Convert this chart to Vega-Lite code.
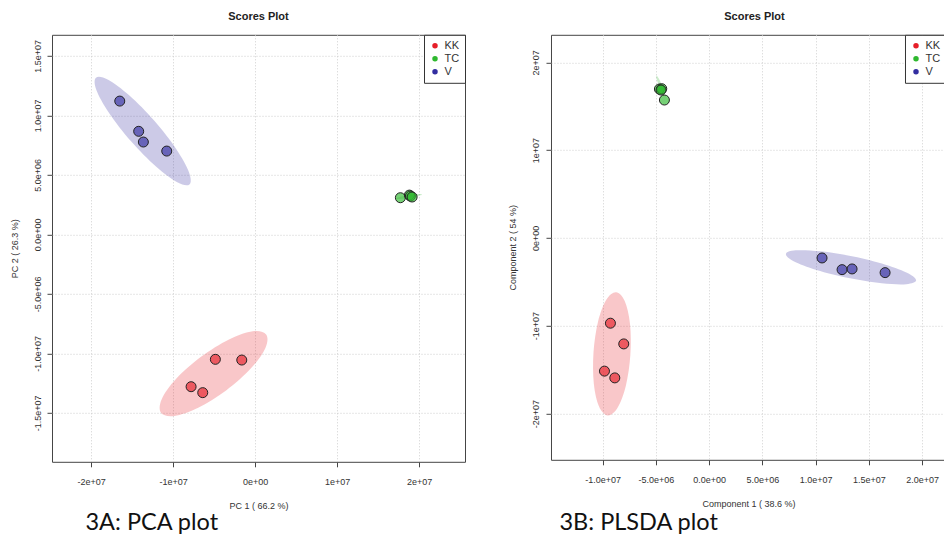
{
  "$schema": "https://vega.github.io/schema/vega-lite/v6.json",
  "background": "white",
  "padding": {"left": 9, "right": 0, "top": 9.8, "bottom": 0},
  "spacing": 42,
  "resolve": {"scale": {"color": "independent"}, "legend": {"color": "independent"}},
  "datasets": {
    "pcaScores": [
      {"group": "KK", "x": -4.84e6, "y": -10.5e6},
      {"group": "KK", "x": -1.62e6, "y": -10.56e6},
      {"group": "KK", "x": -7.8e6, "y": -12.8e6},
      {"group": "KK", "x": -6.38e6, "y": -13.3e6},
      {"group": "TC", "x": 17.72e6, "y": 3.08e6},
      {"group": "TC", "x": 18.82e6, "y": 3.3e6},
      {"group": "TC", "x": 18.94e6, "y": 3.22e6},
      {"group": "TC", "x": 19.15e6, "y": 3.14e6},
      {"group": "V", "x": -16.5e6, "y": 11.2e6},
      {"group": "V", "x": -14.19e6, "y": 8.66e6},
      {"group": "V", "x": -13.62e6, "y": 7.76e6},
      {"group": "V", "x": -10.77e6, "y": 7.0e6}
    ],
    "pcaEllipse": [
      {"group": "V", "i": 0, "x": -8.0e6, "y": 4.2e6},
      {"group": "V", "i": 1, "x": -9.48e6, "y": 4.37e6},
      {"group": "V", "i": 2, "x": -12.08e6, "y": 5.7e6},
      {"group": "V", "i": 3, "x": -15.12e6, "y": 7.82e6},
      {"group": "V", "i": 4, "x": -17.78e6, "y": 10.18e6},
      {"group": "V", "i": 5, "x": -19.35e6, "y": 12.13e6},
      {"group": "V", "i": 6, "x": -19.4e6, "y": 13.16e6},
      {"group": "V", "i": 7, "x": -17.92e6, "y": 12.99e6},
      {"group": "V", "i": 8, "x": -15.32e6, "y": 11.66e6},
      {"group": "V", "i": 9, "x": -12.28e6, "y": 9.54e6},
      {"group": "V", "i": 10, "x": -9.62e6, "y": 7.18e6},
      {"group": "V", "i": 11, "x": -8.06e6, "y": 5.23e6},
      {"group": "KK", "i": 0, "x": 1.35e6, "y": -8.41e6},
      {"group": "KK", "i": 1, "x": 1.25e6, "y": -9.56e6},
      {"group": "KK", "i": 2, "x": -0.53e6, "y": -11.28e6},
      {"group": "KK", "i": 3, "x": -3.53e6, "y": -13.12e6},
      {"group": "KK", "i": 4, "x": -6.94e6, "y": -14.57e6},
      {"group": "KK", "i": 5, "x": -9.84e6, "y": -15.26e6},
      {"group": "KK", "i": 6, "x": -11.47e6, "y": -14.99e6},
      {"group": "KK", "i": 7, "x": -11.37e6, "y": -13.84e6},
      {"group": "KK", "i": 8, "x": -9.59e6, "y": -12.12e6},
      {"group": "KK", "i": 9, "x": -6.59e6, "y": -10.29e6},
      {"group": "KK", "i": 10, "x": -3.18e6, "y": -8.83e6},
      {"group": "KK", "i": 11, "x": -0.28e6, "y": -8.14e6},
      {"group": "TC", "i": 0, "x": 20.35e6, "y": 3.36e6},
      {"group": "TC", "i": 1, "x": 20.15e6, "y": 3.28e6},
      {"group": "TC", "i": 2, "x": 19.59e6, "y": 3.17e6},
      {"group": "TC", "i": 3, "x": 18.81e6, "y": 3.07e6},
      {"group": "TC", "i": 4, "x": 18.02e6, "y": 3.0e6},
      {"group": "TC", "i": 5, "x": 17.44e6, "y": 2.98e6},
      {"group": "TC", "i": 6, "x": 17.21e6, "y": 3.02e6},
      {"group": "TC", "i": 7, "x": 17.41e6, "y": 3.1e6},
      {"group": "TC", "i": 8, "x": 17.97e6, "y": 3.21e6},
      {"group": "TC", "i": 9, "x": 18.75e6, "y": 3.31e6},
      {"group": "TC", "i": 10, "x": 19.54e6, "y": 3.38e6},
      {"group": "TC", "i": 11, "x": 20.12e6, "y": 3.4e6}
    ],
    "plsScores": [
      {"group": "KK", "x": -9.26e6, "y": -9.71e6},
      {"group": "KK", "x": -8.01e6, "y": -12.07e6},
      {"group": "KK", "x": -9.82e6, "y": -15.17e6},
      {"group": "KK", "x": -8.85e6, "y": -15.94e6},
      {"group": "TC", "x": -4.66e6, "y": 16.96e6},
      {"group": "TC", "x": -4.44e6, "y": 17.0e6},
      {"group": "TC", "x": -4.51e6, "y": 16.85e6},
      {"group": "TC", "x": -4.19e6, "y": 15.71e6},
      {"group": "V", "x": 10.61e6, "y": -2.28e6},
      {"group": "V", "x": 12.49e6, "y": -3.61e6},
      {"group": "V", "x": 13.43e6, "y": -3.53e6},
      {"group": "V", "x": 16.53e6, "y": -3.95e6}
    ],
    "plsEllipse": [
      {"group": "V", "i": 0, "x": 19.44e6, "y": -4.86e6},
      {"group": "V", "i": 1, "x": 18.52e6, "y": -5.27e6},
      {"group": "V", "i": 2, "x": 16.21e6, "y": -5.16e6},
      {"group": "V", "i": 3, "x": 13.12e6, "y": -4.57e6},
      {"group": "V", "i": 4, "x": 10.1e6, "y": -3.64e6},
      {"group": "V", "i": 5, "x": 7.94e6, "y": -2.64e6},
      {"group": "V", "i": 6, "x": 7.22e6, "y": -1.82e6},
      {"group": "V", "i": 7, "x": 8.14e6, "y": -1.41e6},
      {"group": "V", "i": 8, "x": 10.46e6, "y": -1.52e6},
      {"group": "V", "i": 9, "x": 13.54e6, "y": -2.11e6},
      {"group": "V", "i": 10, "x": 16.57e6, "y": -3.04e6},
      {"group": "V", "i": 11, "x": 18.73e6, "y": -4.04e6},
      {"group": "KK", "i": 0, "x": -9.51e6, "y": -20.22e6},
      {"group": "KK", "i": 1, "x": -10.33e6, "y": -19.21e6},
      {"group": "KK", "i": 2, "x": -10.82e6, "y": -16.59e6},
      {"group": "KK", "i": 3, "x": -10.85e6, "y": -13.06e6},
      {"group": "KK", "i": 4, "x": -10.43e6, "y": -9.57e6},
      {"group": "KK", "i": 5, "x": -9.65e6, "y": -7.05e6},
      {"group": "KK", "i": 6, "x": -8.73e6, "y": -6.18e6},
      {"group": "KK", "i": 7, "x": -7.92e6, "y": -7.19e6},
      {"group": "KK", "i": 8, "x": -7.42e6, "y": -9.81e6},
      {"group": "KK", "i": 9, "x": -7.39e6, "y": -13.34e6},
      {"group": "KK", "i": 10, "x": -7.81e6, "y": -16.83e6},
      {"group": "KK", "i": 11, "x": -8.59e6, "y": -19.35e6},
      {"group": "TC", "i": 0, "x": -4.15e6, "y": 16.14e6},
      {"group": "TC", "i": 1, "x": -4.27e6, "y": 16.26e6},
      {"group": "TC", "i": 2, "x": -4.46e6, "y": 16.66e6},
      {"group": "TC", "i": 3, "x": -4.67e6, "y": 17.24e6},
      {"group": "TC", "i": 4, "x": -4.85e6, "y": 17.83e6},
      {"group": "TC", "i": 5, "x": -4.94e6, "y": 18.27e6},
      {"group": "TC", "i": 6, "x": -4.93e6, "y": 18.46e6},
      {"group": "TC", "i": 7, "x": -4.81e6, "y": 18.34e6},
      {"group": "TC", "i": 8, "x": -4.62e6, "y": 17.94e6},
      {"group": "TC", "i": 9, "x": -4.41e6, "y": 17.36e6},
      {"group": "TC", "i": 10, "x": -4.23e6, "y": 16.77e6},
      {"group": "TC", "i": 11, "x": -4.14e6, "y": 16.33e6}
    ]
  },
  "hconcat": [
    {
      "title": {"text": "3A: PCA plot", "orient": "bottom", "anchor": "start", "dx": 76, "offset": 0.5, "font": "Lato", "fontSize": 23.5, "fontWeight": "normal", "color": "#111"},
      "resolve": {"scale": {"color": "independent"}, "legend": {"color": "independent"}},
      "vconcat": [
        {
          "title": {"text": "Scores Plot", "frame": "group", "anchor": "middle", "offset": 12.2},
          "width": 413,
          "height": 427,
          "encoding": {
            "x": {"field": "x", "type": "quantitative", "scale": {"domain": [-24.76e6, 25.6e6], "nice": false, "zero": false},
                  "axis": {"title": "PC 1 ( 66.2 %)", "values": [-2e7, -1e7, 0, 1e7, 2e7],
                           "labelExpr": "replace(replace(replace(format(datum.value, '.0e'), '\u2212', '-'), 'e+', 'e+0'), 'e-', 'e-0')"}},
            "y": {"field": "y", "type": "quantitative", "scale": {"domain": [-19.11e6, 16.77e6], "nice": false, "zero": false},
                  "axis": {"title": "PC 2 ( 26.3 %)", "values": [-1.5e7, -1e7, -5e6, 0, 5e6, 1e7, 1.5e7],
                           "labelExpr": "replace(replace(replace(format(datum.value, '.1e'), '\u2212', '-'), 'e+', 'e+0'), 'e-', 'e-0')"}},
            "color": {"field": "group", "type": "nominal",
                      "scale": {"domain": ["KK", "TC", "V"], "range": ["#e61e28", "#2eb82e", "#322da0"]},
                      "legend": {"title": null, "orient": "top-right", "offset": 0, "padding": 5.5, "strokeColor": "#333", "fillColor": "white",
                                 "symbolType": "circle", "symbolSize": 30, "symbolStrokeWidth": 0, "symbolOpacity": 1,
                                 "labelFontSize": 11, "labelFont": "Liberation Sans", "labelColor": "#333", "labelOffset": 4, "rowPadding": 1, "cornerRadius": 0}}
          },
          "layer": [
            {"data": {"name": "pcaEllipse"},
             "mark": {"type": "line", "interpolate": "cardinal-closed", "filled": true, "fillOpacity": 0.25, "strokeOpacity": 0},
             "encoding": {"order": {"field": "i", "type": "quantitative"}}},
            {"data": {"name": "pcaScores"},
             "mark": {"type": "point", "shape": "circle", "filled": true, "size": 100, "opacity": 1, "fillOpacity": 0.65, "stroke": "#222", "strokeWidth": 1}}
          ]
        }
      ]
    },
    {
      "title": {"text": "3B: PLSDA plot", "orient": "bottom", "anchor": "start", "dx": 51, "offset": 2.5, "font": "Lato", "fontSize": 23.5, "fontWeight": "normal", "color": "#111"},
      "resolve": {"scale": {"color": "independent"}, "legend": {"color": "independent"}},
      "vconcat": [
        {
          "title": {"text": "Scores Plot", "frame": "group", "anchor": "middle", "offset": 12.2, "dx": 6},
          "width": 395,
          "height": 425,
          "encoding": {
            "x": {"field": "x", "type": "quantitative", "scale": {"domain": [-14.84e6, 22.25e6], "nice": false, "zero": false},
                  "axis": {"title": "Component 1 ( 38.6 %)", "values": [-1e7, -5e6, 0, 5e6, 1e7, 1.5e7, 2e7],
                           "labelExpr": "replace(replace(replace(format(datum.value, '.1e'), '\u2212', '-'), 'e+', 'e+0'), 'e-', 'e-0')"}},
            "y": {"field": "y", "type": "quantitative", "scale": {"domain": [-25.27e6, 23.14e6], "nice": false, "zero": false},
                  "axis": {"title": "Component 2 ( 54 %)", "values": [-2e7, -1e7, 0, 1e7, 2e7],
                           "labelExpr": "replace(replace(replace(format(datum.value, '.0e'), '\u2212', '-'), 'e+', 'e+0'), 'e-', 'e-0')"}},
            "color": {"field": "group", "type": "nominal",
                      "scale": {"domain": ["KK", "TC", "V"], "range": ["#e61e28", "#2eb82e", "#322da0"]},
                      "legend": {"title": null, "orient": "top-right", "offset": 0, "padding": 5.5, "strokeColor": "#333", "fillColor": "white",
                                 "symbolType": "circle", "symbolSize": 30, "symbolStrokeWidth": 0, "symbolOpacity": 1,
                                 "labelFontSize": 11, "labelFont": "Liberation Sans", "labelColor": "#333", "labelOffset": 4, "rowPadding": 1, "cornerRadius": 0}}
          },
          "layer": [
            {"data": {"name": "plsEllipse"},
             "mark": {"type": "line", "interpolate": "cardinal-closed", "filled": true, "fillOpacity": 0.25, "strokeOpacity": 0},
             "encoding": {"order": {"field": "i", "type": "quantitative"}}},
            {"data": {"name": "plsScores"},
             "mark": {"type": "point", "shape": "circle", "filled": true, "size": 100, "opacity": 1, "fillOpacity": 0.65, "stroke": "#222", "strokeWidth": 1}}
          ]
        }
      ]
    }
  ],
  "config": {
    "font": "Liberation Sans",
    "view": {"stroke": "#444", "strokeWidth": 1},
    "axis": {"domain": false, "tickColor": "#444", "tickSize": 5, "labelFont": "Liberation Sans", "labelFontSize": 9, "labelColor": "#333",
             "titleFont": "Liberation Sans", "titleFontSize": 9, "titleFontWeight": "normal", "titleColor": "#333",
             "gridColor": "#cfcfcf", "gridDash": [1, 2], "gridWidth": 1},
    "axisX": {"labelPadding": 10.5, "titlePadding": 15, "labelAngle": 0},
    "axisY": {"labelAngle": -90, "labelPadding": 5, "titlePadding": 14},
    "title": {"font": "Liberation Sans", "fontSize": 11, "fontWeight": "bold", "color": "#222"}
  }
}
